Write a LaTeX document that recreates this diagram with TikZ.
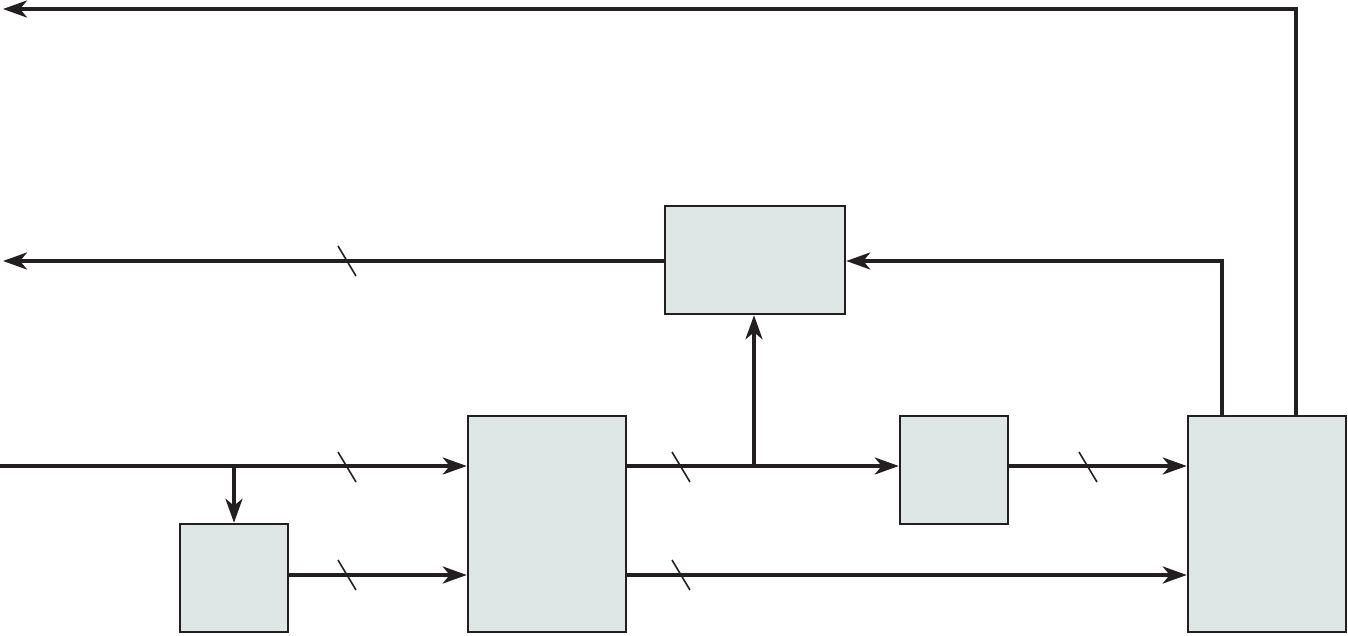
\documentclass[tikz,border=0pt]{standalone}
\usetikzlibrary{arrows.meta,calc}
\definecolor{boxfill}{RGB}{222,231,229}
\definecolor{ink}{RGB}{35,31,32}
\tikzset{
  blk/.style={draw=ink, fill=boxfill, line width=2.5pt, inner sep=0pt, rectangle},
  wire/.style={draw=ink, line width=3.6pt},
  arr/.style={wire, -{Stealth[length=24pt,width=17pt,inset=7pt]}},
  tick/.style={draw=ink, line width=1.6pt},
}
\newcommand{\tickmark}[1]{\draw[tick] ($(#1)+(-9,-15)$) -- ($(#1)+(9,15)$);}
\begin{document}
\begin{tikzpicture}[x=1pt,y=-1pt]
\useasboundingbox (0,0) rectangle (1348,636);
% boxes
\node[blk, minimum width=180pt, minimum height=108pt] (T) at (755,260) {};
\node[blk, minimum width=158pt, minimum height=216pt] (M) at (547,524) {};
\node[blk, minimum width=108pt, minimum height=108pt] (S) at (234,578) {};
\node[blk, minimum width=108pt, minimum height=108pt] (Q) at (954,470) {};
\node[blk, minimum width=158pt, minimum height=216pt] (R) at (1267,524) {};
% free ends
\coordinate (in) at (0,466);
\coordinate (outA) at (3,9);
\coordinate (outB) at (3,261);
\coordinate (br1) at (234,466);
\coordinate (br2) at (754,466);
\coordinate (rA) at (1296,416);
\coordinate (rB) at (1222,416);
% top feedback
\draw[arr] (rA) -- (1296,9) -- (outA);
\draw[arr] (rB) -- (1222,261) -- (T.east |- 0,261);
\draw[arr] (T.west |- 0,261) -- (outB);
% input
\draw[arr] (in) -- (M.west |- in);
\draw[arr] (br1) -- (S.north);
\draw[arr] (S.east |- 0,575) -- (M.west |- 0,575);
% middle outputs
\draw[arr] (M.east |- in) -- (Q.west |- in);
\draw[arr] (br2) -- (T.south -| br2);
\draw[arr] (Q.east |- in) -- (R.west |- in);
\draw[arr] (M.east |- 0,575) -- (R.west |- 0,575);
% ticks
\coordinate (t1) at (347,261);
\coordinate (t2) at (347,467);
\coordinate (t3) at (347,575);
\coordinate (t4) at (681,467);
\coordinate (t5) at (681,575);
\coordinate (t6) at (1088,467);
\tickmark{t1}
\tickmark{t2}
\tickmark{t3}
\tickmark{t4}
\tickmark{t5}
\tickmark{t6}
\end{tikzpicture}
\end{document}
